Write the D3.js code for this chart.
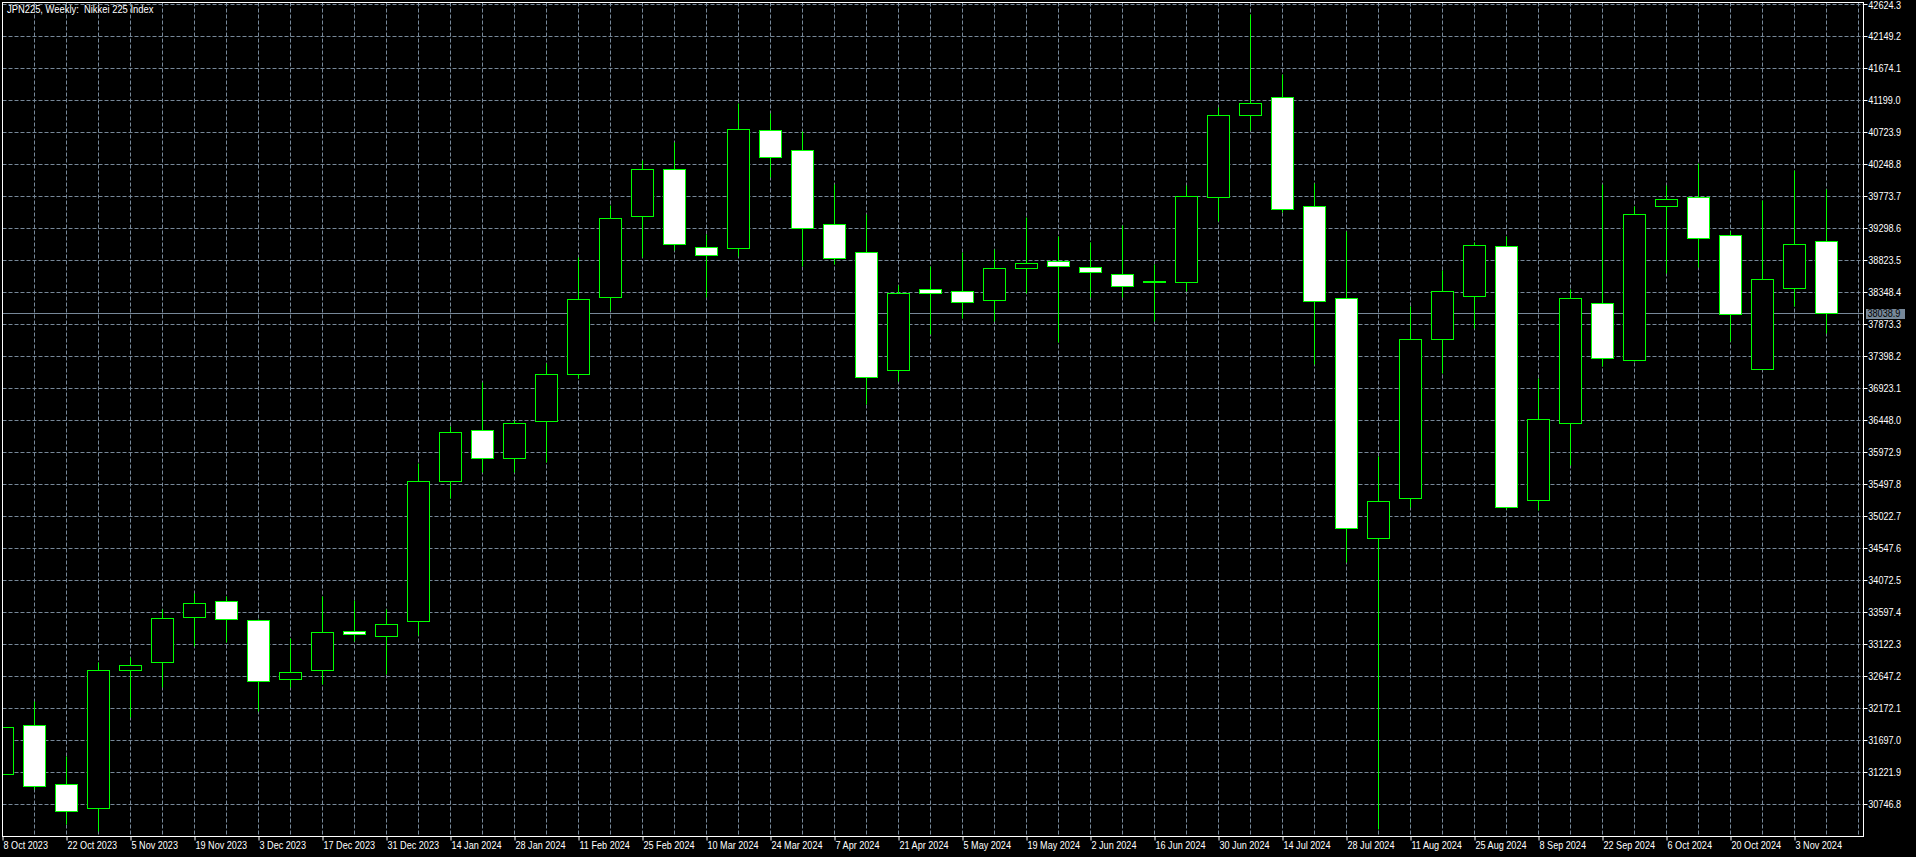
<!DOCTYPE html>
<html><head><meta charset="utf-8">
<script src="https://cdn.jsdelivr.net/npm/d3@7"></script>
<style>
html,body{margin:0;padding:0;background:#000;overflow:hidden;}
svg{display:block;}
text{font-family:"Liberation Sans",Arial,sans-serif;font-size:10px;fill:#fff;white-space:pre;}
</style></head><body>
<svg id="c" width="1916" height="857"></svg>
<script>
const title = "JPN225, Weekly:  Nikkei 225 Index";
const dates = ["8 Oct 2023","15 Oct 2023","22 Oct 2023","29 Oct 2023","5 Nov 2023","12 Nov 2023","19 Nov 2023","26 Nov 2023","3 Dec 2023","10 Dec 2023","17 Dec 2023","24 Dec 2023","31 Dec 2023","7 Jan 2024","14 Jan 2024","21 Jan 2024","28 Jan 2024","4 Feb 2024","11 Feb 2024","18 Feb 2024","25 Feb 2024","3 Mar 2024","10 Mar 2024","17 Mar 2024","24 Mar 2024","31 Mar 2024","7 Apr 2024","14 Apr 2024","21 Apr 2024","28 Apr 2024","5 May 2024","12 May 2024","19 May 2024","26 May 2024","2 Jun 2024","9 Jun 2024","16 Jun 2024","23 Jun 2024","30 Jun 2024","7 Jul 2024","14 Jul 2024","21 Jul 2024","28 Jul 2024","4 Aug 2024","11 Aug 2024","18 Aug 2024","25 Aug 2024","1 Sep 2024","8 Sep 2024","15 Sep 2024","22 Sep 2024","29 Sep 2024","6 Oct 2024","13 Oct 2024","20 Oct 2024","27 Oct 2024","3 Nov 2024","10 Nov 2024"];
const open  = [31199,31922,31048,30691,32740,32852,33519,33765,33487,32613,32740,33320,33249,33471,35545,36300,35879,36435,37134,38278,39478,40177,39017,39001,40749,40455,39359,38945,37190,38397,38358,38231,38699,38810,38723,38612,38510,38501,39756,40980,41242,39621,38262,34703,35299,37650,38294,39033,35267,36411,38191,37341,39621,39756,39192,37206,38413,39112];
const high  = [32050,32280,31469,32852,32939,33646,33884,33837,33500,33217,33845,33773,33646,35815,36356,37007,36443,37301,38866,39645,40304,40574,39216,41162,41011,40741,39947,39510,38461,38739,38938,38993,39470,39176,39088,39351,38771,39931,41099,42481,41591,39970,39255,35918,38135,38675,39097,39176,37071,38397,39954,39621,39931,40264,39255,39716,40161,39883];
const low   = [31000,30969,30452,30357,32041,32494,33098,33154,32137,32494,32534,33177,32677,33265,35299,35680,35680,35831,37071,38080,38874,38970,38278,38890,40050,38731,38771,36681,37031,37722,37960,37921,38342,37603,38270,38270,37913,38358,39407,40757,39533,37285,34345,30373,35164,37142,37810,35124,35116,35775,37253,37330,38628,38715,37627,37200,38135,37738];
const close = [31898,31024,30643,32733,32820,33511,33734,33495,32582,32717,33297,33281,33424,35545,36276,35879,36411,37134,38246,39446,40177,39065,38906,40773,40360,39295,38858,37087,38334,38342,38199,38707,38779,38739,38644,38437,38495,39772,40980,41162,39589,38215,34854,35251,37650,38366,39049,35156,36467,38262,37364,39510,39732,39152,38024,38540,39065,38038.9];
const priceTicks = [42624.3,42149.2,41674.1,41199.0,40723.9,40248.8,39773.7,39298.6,38823.5,38348.4,37873.3,37398.2,36923.1,36448.0,35972.9,35497.8,35022.7,34547.6,34072.5,33597.4,33122.3,32647.2,32172.1,31697.0,31221.9,30746.8];
const bid = 38038.9;

const W = 1916, H = 857;
const L = 2.5, T = 2.5, R = 1863.5, B = 836.5;
const GRID = "#778899", CANDLE = "#00ff00";
const SX = 0.91; // horizontal squeeze of the label font
const SXT = 0.94; // title squeeze

const svg = d3.select("#c");
svg.append("rect").attr("width", W).attr("height", H).attr("fill", "#000");

const x = d3.scaleLinear().domain([0, dates.length - 1]).range([2.5, 2.5 + 32 * (dates.length - 1)]);
const y = d3.scaleLinear().domain([priceTicks[0], priceTicks[priceTicks.length - 1]]).range([4, 804.25]);
const py = v => Math.round(y(v)) + 0.5;

svg.append("clipPath").attr("id", "clip").append("rect")
  .attr("x", L + 0.5).attr("y", T + 0.5).attr("width", R - L - 1).attr("height", B - T - 1);

const plot = svg.append("g").attr("clip-path", "url(#clip)");

// horizontal grid
plot.append("g").selectAll("line").data(priceTicks).join("line")
  .attr("x1", L).attr("x2", R).attr("y1", d => py(d)).attr("y2", d => py(d))
  .attr("stroke", GRID).attr("stroke-dasharray", "4,2");
// vertical grid (every bar + one beyond)
const vIdx = d3.range(1, dates.length + 1);
plot.append("g").selectAll("line").data(vIdx).join("line")
  .attr("x1", d => x(d)).attr("x2", d => x(d)).attr("y1", T).attr("y2", B)
  .attr("stroke", GRID).attr("stroke-dasharray", "4,2");

// bid line
plot.append("line").attr("x1", L).attr("x2", R).attr("y1", py(bid)).attr("y2", py(bid))
  .attr("stroke", GRID);

// candles
const idx = d3.range(dates.length);
const cg = plot.append("g");
cg.selectAll("line.wick").data(idx).join("line").attr("class", "wick")
  .attr("x1", i => x(i)).attr("x2", i => x(i))
  .attr("y1", i => py(high[i])).attr("y2", i => py(low[i]))
  .attr("stroke", CANDLE);
cg.selectAll("rect.body").data(idx).join("rect").attr("class", "body")
  .attr("x", i => x(i) - 11).attr("width", 22)
  .attr("y", i => py(Math.max(open[i], close[i])))
  .attr("height", i => Math.max(1, py(Math.min(open[i], close[i])) - py(Math.max(open[i], close[i]))))
  .attr("fill", i => close[i] >= open[i] ? "#000" : "#fff")
  .attr("stroke", CANDLE);

// frame
svg.append("rect").attr("x", L).attr("y", T).attr("width", R - L).attr("height", B - T)
  .attr("fill", "none").attr("stroke", "#fff");

// price axis
const ya = svg.append("g").attr("transform", `translate(${R},0)`)
  .call(d3.axisRight(y).tickValues(priceTicks).tickSize(4).tickPadding(1).tickFormat(d3.format(".1f")));
ya.select(".domain").remove();
ya.attr("font-family", null).attr("font-size", null);
ya.selectAll(".tick").attr("transform", d => `translate(0,${py(d)})`);
ya.selectAll(".tick line").attr("stroke", "#fff");
ya.selectAll(".tick text").attr("fill", "#fff").attr("x", 4.8 / SX)
  .attr("dy", (d, i) => i === 0 ? "0.42em" : "0.34em")
  .attr("transform", `scale(${SX},1)`);

// bid label
const by = py(bid);
svg.append("rect").attr("x", 1866).attr("y", by - 4.5).attr("width", 39).attr("height", 10).attr("fill", GRID);
svg.append("text").attr("x", 1867.5 / SX).attr("y", by).attr("dy", "0.36em")
  .attr("transform", `scale(${SX},1)`).style("fill", "#000")
  .text(d3.format(".1f")(bid));

// time axis
const tIdx = idx.filter(i => i % 2 === 0);
const xa = svg.append("g").attr("transform", `translate(0,${B})`)
  .call(d3.axisBottom(x).tickValues(tIdx).tickSize(4).tickPadding(1.5).tickFormat(i => dates[i]));
xa.select(".domain").remove();
xa.attr("font-family", null).attr("font-size", null);
xa.selectAll(".tick line").attr("stroke", "#fff");
xa.selectAll(".tick text").attr("text-anchor", "start").attr("x", 0.5 / SX).attr("fill", "#fff")
  .attr("transform", `scale(${SX},1)`);

// title
svg.append("text").attr("x", 7 / SXT).attr("y", 13).attr("transform", `scale(${SXT},1)`)
  .attr("xml:space", "preserve").text(title);
</script>
</body></html>
